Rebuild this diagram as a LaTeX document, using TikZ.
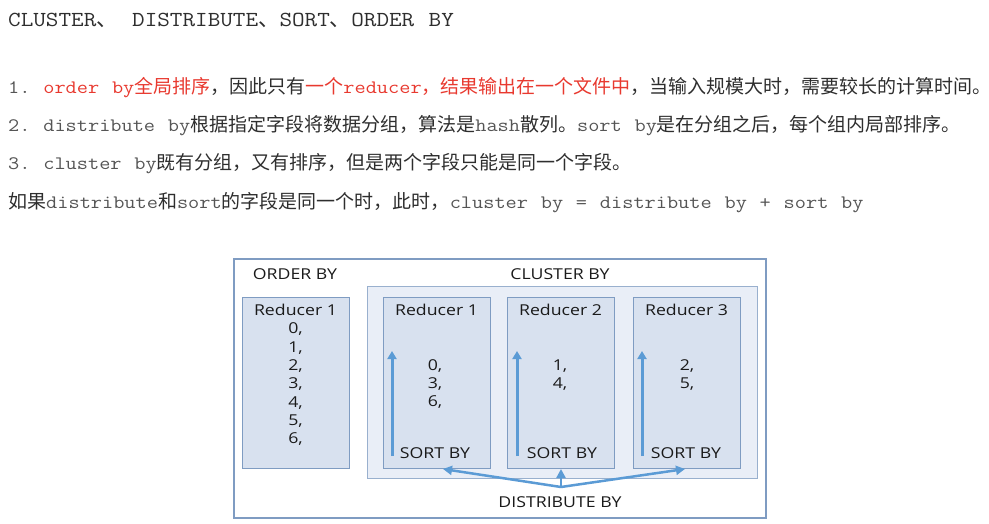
\documentclass[tikz,border=0pt]{standalone}
\usepackage{fontspec}
\usetikzlibrary{arrows.meta}
\setmainfont{Open Sans}
\newfontfamily\lmono[FakeStretch=1.143,WordSpace=1.143]{Latin Modern Mono}
\newfontfamily\zhfont{Noto Sans CJK SC}
\newfontfamily\dgmfont[FakeStretch=1.18]{Open Sans}
\definecolor{txtdark}{HTML}{2E2E2E}
\definecolor{txtgray}{HTML}{555555}
\definecolor{txtred}{HTML}{E8392F}
\definecolor{boxline}{HTML}{7F9CC2}
\definecolor{clfill}{HTML}{E9EEF7}
\definecolor{rfill}{HTML}{D8E1EF}
\definecolor{arrowblue}{HTML}{5B9BD5}
\definecolor{dgmtext}{HTML}{1A1A1A}
\newcommand\mm[1]{{\lmono\color{txtgray}#1}}
\newcommand\mr[1]{{\lmono\color{txtred}#1}}
\newcommand\zd[1]{{\zhfont\color{txtdark}#1}}
\newcommand\zr[1]{{\zhfont\color{txtred}#1}}
\frenchspacing
\tikzset{
  line/.style={anchor=base west, inner sep=0pt, font=\fontsize{19}{22}\selectfont},
  outerbox/.style={draw=boxline, line width=1.2pt, fill=white, inner sep=0pt},
  clusterbox/.style={draw=boxline!80, line width=1pt, fill=clfill, inner sep=0pt},
  redbox/.style={draw=boxline, line width=1pt, fill=rfill, inner sep=0pt},
  dtext/.style={font=\dgmfont\fontsize{15}{18.3}\selectfont, text=dgmtext, inner sep=0pt, align=center},
  sortarrow/.style={draw=arrowblue, line width=3pt, -{Triangle[width=9pt,length=8pt]}},
  distarrow/.style={draw=arrowblue, line width=2.5pt, -{Triangle[width=9pt,length=9pt]}}
}
\begin{document}
\begin{tikzpicture}[x=1pt,y=-1pt]
\useasboundingbox (0,0) rectangle (989,523);
% heading and text lines
\node[anchor=base west, inner sep=0pt, font=\fontsize{21.4}{24}\selectfont, text=txtdark] (title) at (8,26)
  {{\lmono CLUSTER}{\zhfont 、}{\lmono\ DISTRIBUTE}{\zhfont 、}{\lmono SORT}{\zhfont 、}{\lmono ORDER BY}};
\node[line] (l1) at (8,93)
  {\mm{1. }\mr{order by}\zr{全局排序}\zd{，因此只有}\zr{一个}\mr{reducer}\zr{，结果输出在一个文件中}\zd{，当输入规模大时，需要较长的计算时间。}};
\node[line] (l2) at (8,131)
  {\mm{2. distribute by}\zd{根据指定字段将数据分组，算法是}\mm{hash}\zd{散列。}\mm{sort by}\zd{是在分组之后，每个组内局部排序。}};
\node[line] (l3) at (8,169)
  {\mm{3. cluster by}\zd{既有分组，又有排序，但是两个字段只能是同一个字段。}};
\node[line] (l4) at (8,208)
  {\zd{如果}\mm{distribute}\zd{和}\mm{sort}\zd{的字段是同一个时，此时，}\mm{cluster by = distribute by + sort by}};
% diagram
\node[outerbox, minimum width=532pt, minimum height=259pt] (outer) at (500,388.5) {};
\node[dtext] (ordlbl) at (295,274) {ORDER BY};
\node[redbox, minimum width=107pt, minimum height=171pt] (r0) at (295.5,382.5) {};
\node[dtext] (r0txt) at (295.5,375) {Reducer 1\\0,\\1,\\2,\\3,\\4,\\5,\\6,};
\node[clusterbox, minimum width=390pt, minimum height=192pt] (cl) at (562,382) {};
\node[dtext] (cllbl) at (560,274) {CLUSTER BY};
\node[redbox, minimum width=107pt, minimum height=171pt] (ra) at (436.5,382.5) {};
\node[redbox, minimum width=107pt, minimum height=171pt] (rb) at (560.5,382.5) {};
\node[redbox, minimum width=107pt, minimum height=171pt] (rc) at (686.5,382.5) {};
\node[dtext] (ta) at (436.5,310) {Reducer 1};
\node[dtext] (tb) at (560.5,310) {Reducer 2};
\node[dtext] (tc) at (686.5,310) {Reducer 3};
\node[dtext] (da) at (435,384) {0,\\3,\\6,};
\node[dtext] (db) at (560,375) {1,\\4,};
\node[dtext] (dc) at (687,375) {2,\\5,};
\node[dtext] (sa) at (435,453) {SORT BY};
\node[dtext] (sb) at (562,453) {SORT BY};
\node[dtext] (sc) at (686,453) {SORT BY};
\coordinate (a0) at (392,456); \coordinate (a1) at (392,351);
\coordinate (b0) at (517,456); \coordinate (b1) at (517,351);
\coordinate (c0) at (642,456); \coordinate (c1) at (642,351);
\draw[sortarrow] (a0) -- (a1);
\draw[sortarrow] (b0) -- (b1);
\draw[sortarrow] (c0) -- (c1);
\coordinate (dsrc) at (561,487);
\coordinate (ea) at (443,469);
\coordinate (eb) at (561,469);
\coordinate (ec) at (685,469);
\draw[distarrow] (dsrc) -- (ea);
\draw[distarrow] (dsrc) -- (eb);
\draw[distarrow] (dsrc) -- (ec);
\node[dtext] (dlbl) at (560,502) {DISTRIBUTE BY};
\end{tikzpicture}
\end{document}
